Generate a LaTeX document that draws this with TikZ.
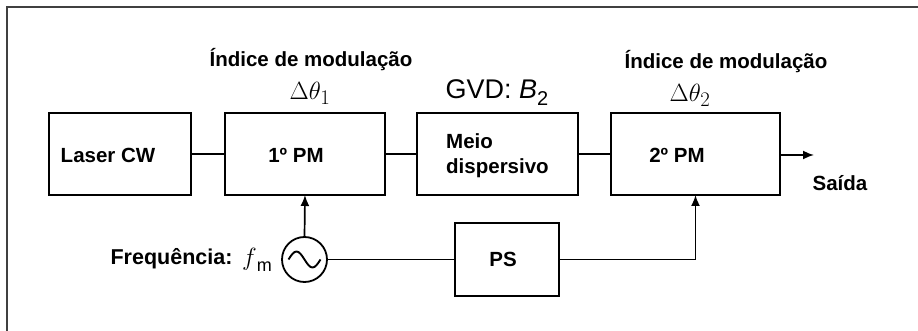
\documentclass[tikz,border=0pt]{standalone}
\usepackage{fontspec}
\setmainfont{Liberation Sans}
\setsansfont{Liberation Sans}
\usetikzlibrary{arrows.meta}
\tikzset{
  blk/.style={draw, line width=2.3pt, inner sep=0pt, outer sep=0pt, minimum height=82pt},
  lbl/.style={font=\fontsize{20.5}{25}\selectfont\bfseries, inner sep=0pt, align=left},
  top/.style={font=\fontsize{20.5}{24}\selectfont\bfseries, inner sep=0pt},
  mth/.style={font=\fontsize{29}{32}\selectfont, inner sep=0pt},
  wire/.style={line width=1.7pt},
  arr/.style={line width=1.7pt, -{Latex[length=11pt,width=9pt]}},
  frame/.style={line width=1.4pt, draw=black!75}
}
\begin{document}
\begin{tikzpicture}[x=1pt,y=-1pt]
\useasboundingbox (0,0) rectangle (918,331);
\draw[frame] (7,331) -- (7,7) -- (918,7);
% blocks
\node[blk, minimum width=142pt] (laser) at (120,154) {};
\node[blk, minimum width=160pt] (pm1) at (305,154) {};
\node[blk, minimum width=161pt] (disp) at (497.5,154) {};
\node[blk, minimum width=169pt] (pm2) at (695.5,154) {};
\node[blk, minimum width=104pt, minimum height=73pt] (ps) at (507,259.5) {};
\node[draw, circle, line width=1.8pt, minimum size=45pt, inner sep=0pt, outer sep=0pt] (osc) at (304.5,259.5) {};
\draw[line width=1.9pt] ([xshift=-16pt]osc.center) sin ([xshift=-8pt,yshift=8pt]osc.center) cos (osc.center) sin ([xshift=8pt,yshift=-8pt]osc.center) cos ([xshift=16pt]osc.center);
\coordinate (out) at (814,155);
% block texts
\node[lbl] (tlaser) at (108,155) {Laser CW};
\node[lbl] (tpm1) at (296,155) {1º PM};
\node[lbl, anchor=west] (tdisp) at (446,156) {Meio\\dispersivo};
\node[lbl] (tpm2) at (677,155) {2º PM};
\node[lbl] (tps) at (503,259) {PS};
\node[lbl] (tsaida) at (840,183) {Saída};
\node[lbl, font=\fontsize{21.5}{25}\selectfont\bfseries] (tfreq) at (171.5,259) {Frequência:};
\node[mth] (tfm) at (257,260) {$f$\raisebox{-6pt}{\fontsize{18}{20}\selectfont m}};
% top labels
\node[top] (ind1) at (311,60) {Índice de modulação};
\node[top] (ind2) at (726,62) {Índice de modulação};
\node[mth] (dt1) at (310,93) {$\Delta\theta_1$};
\node[mth] (dt2) at (690,95) {$\Delta\theta_2$};
\node[mth, font=\fontsize{27}{30}\selectfont] (gvd) at (497,93) {GVD: \textit{B}\raisebox{-7pt}{\fontsize{20}{24}\selectfont 2}};
% connectors
\draw[wire] (laser.east) -- (pm1.west);
\draw[wire] (pm1.east) -- (disp.west);
\draw[wire] (disp.east) -- (pm2.west);
\draw[arr] (pm2.east |- out) -- (out);
\draw[arr] (osc.north) -- (pm1.south);
\draw[wire] (osc.east) -- (ps.west);
\draw[arr] (ps.east) -| (pm2.south);
\end{tikzpicture}
\end{document}
